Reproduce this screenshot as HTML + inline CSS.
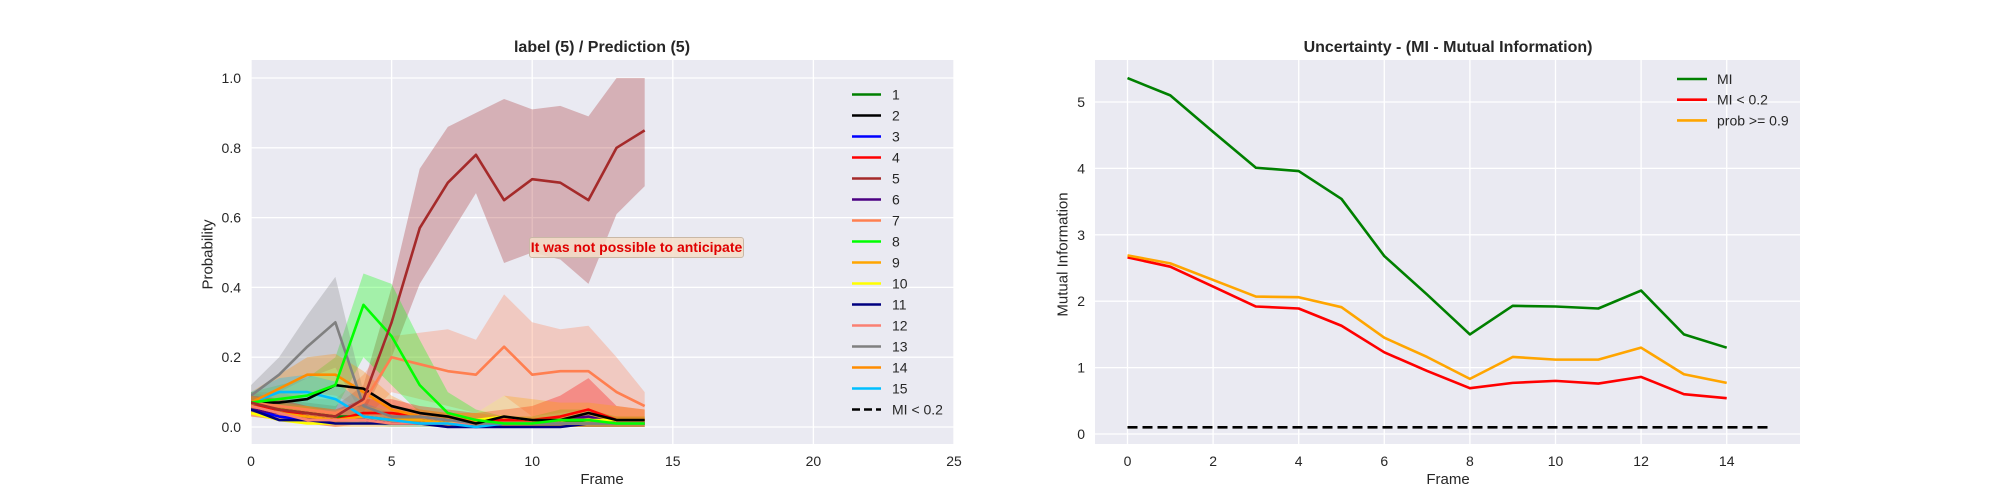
<!DOCTYPE html>
<html><head><meta charset="utf-8"><style>
body{margin:0;background:#fff;}
svg{display:block;font-family:"Liberation Sans",sans-serif;}
</style></head><body>
<svg id="c" width="2000" height="500"></svg>
<script>
const frames=[0,1,2,3,4,5,6,7,8,9,10,11,12,13,14];
const leftXTicks=[0,5,10,15,20,25];
const leftYTicks=[0.0,0.2,0.4,0.6,0.8,1.0];
const classNames=['1','2','3','4','5','6','7','8','9','10','11','12','13','14','15'];
const classColors=['green','black','blue','red','brown','indigo','coral','lime','orange','yellow','navy','salmon','gray','darkorange','deepskyblue'];
const c1=[0.06,0.05,0.04,0.03,0.03,0.02,0.02,0.01,0.01,0.01,0.01,0.01,0.02,0.01,0.01];
const c2=[0.07,0.07,0.08,0.12,0.11,0.06,0.04,0.03,0.01,0.03,0.02,0.02,0.04,0.02,0.02];
const c3=[0.05,0.03,0.02,0.02,0.02,0.01,0.01,0.01,0.0,0.01,0.01,0.01,0.01,0.01,0.01];
const c4=[0.06,0.05,0.03,0.02,0.04,0.04,0.03,0.02,0.02,0.02,0.02,0.03,0.05,0.02,0.02];
const c5=[0.07,0.05,0.04,0.03,0.08,0.30,0.57,0.70,0.78,0.65,0.71,0.70,0.65,0.80,0.85];
const c6=[0.05,0.04,0.03,0.02,0.02,0.01,0.01,0.01,0.01,0.01,0.01,0.02,0.03,0.01,0.01];
const c7=[0.07,0.06,0.05,0.04,0.07,0.20,0.18,0.16,0.15,0.23,0.15,0.16,0.16,0.10,0.06];
const c8=[0.07,0.08,0.09,0.12,0.35,0.26,0.12,0.04,0.02,0.01,0.01,0.02,0.02,0.01,0.01];
const c9=[0.06,0.04,0.03,0.02,0.03,0.02,0.02,0.01,0.01,0.01,0.01,0.02,0.02,0.01,0.01];
const c10=[0.04,0.02,0.01,0.01,0.01,0.01,0.01,0.01,0.02,0.03,0.02,0.02,0.02,0.02,0.02];
const c11=[0.05,0.02,0.02,0.01,0.01,0.01,0.01,0.0,0.0,0.0,0.0,0.0,0.01,0.01,0.01];
const c12=[0.06,0.04,0.02,0.02,0.02,0.01,0.01,0.01,0.01,0.01,0.01,0.01,0.01,0.01,0.01];
const c13=[0.09,0.15,0.23,0.30,0.06,0.03,0.03,0.02,0.01,0.01,0.01,0.01,0.01,0.01,0.01];
const c14=[0.07,0.11,0.15,0.15,0.10,0.05,0.03,0.02,0.02,0.01,0.01,0.01,0.01,0.01,0.01];
const c15=[0.07,0.10,0.10,0.08,0.03,0.02,0.01,0.01,0.0,0.01,0.01,0.01,0.01,0.01,0.01];
const classMeans=[c1,c2,c3,c4,c5,c6,c7,c8,c9,c10,c11,c12,c13,c14,c15];
const band5Up=[0.10,0.08,0.07,0.06,0.12,0.40,0.74,0.86,0.90,0.94,0.91,0.92,0.89,1.0,1.0];
const band5Lo=[0.04,0.03,0.02,0.01,0.04,0.20,0.41,0.54,0.67,0.47,0.50,0.48,0.41,0.61,0.69];
const band7Up=[0.10,0.10,0.08,0.08,0.15,0.26,0.27,0.28,0.25,0.38,0.30,0.28,0.29,0.20,0.10];
const band7Lo=[0.04,0.03,0.02,0.01,0.02,0.10,0.08,0.06,0.04,0.09,0.03,0.04,0.05,0.02,0.02];
const band8Up=[0.10,0.12,0.14,0.20,0.44,0.41,0.25,0.10,0.05,0.03,0.03,0.05,0.05,0.03,0.03];
const band8Lo=[0.04,0.04,0.05,0.05,0.20,0.12,0.04,0.01,0.0,0.0,0.0,0.0,0.0,0.0,0.0];
const band13Up=[0.12,0.20,0.32,0.43,0.10,0.06,0.05,0.04,0.02,0.02,0.02,0.02,0.02,0.02,0.02];
const band13Lo=[0.06,0.10,0.14,0.17,0.03,0.01,0.01,0.0,0.0,0.0,0.0,0.0,0.0,0.0,0.0];
const band14Up=[0.10,0.15,0.20,0.21,0.16,0.09,0.05,0.04,0.04,0.03,0.03,0.03,0.03,0.03,0.03];
const band14Lo=[0.04,0.07,0.10,0.09,0.05,0.02,0.01,0.0,0.0,0.0,0.0,0.0,0.0,0.0,0.0];
const band15Up=[0.10,0.14,0.15,0.13,0.07,0.04,0.03,0.02,0.01,0.02,0.02,0.02,0.02,0.02,0.02];
const band15Lo=[0.04,0.06,0.06,0.04,0.01,0.0,0.0,0.0,0.0,0.0,0.0,0.0,0.0,0.0,0.0];
const band4Up=[0.09,0.08,0.06,0.05,0.08,0.08,0.06,0.05,0.04,0.05,0.06,0.09,0.14,0.06,0.05];
const band4Lo=[0.03,0.02,0.01,0.0,0.01,0.01,0.01,0.0,0.0,0.0,0.0,0.0,0.0,0.0,0.0];
const band9Up=[0.09,0.07,0.06,0.05,0.06,0.05,0.05,0.04,0.04,0.09,0.08,0.07,0.07,0.06,0.05];
const band9Lo=[0.03,0.02,0.01,0.0,0.0,0.0,0.0,0.0,0.0,0.0,0.0,0.0,0.0,0.0,0.0];
const bands=[[4,band5Up,band5Lo],[6,band7Up,band7Lo],[7,band8Up,band8Lo],[12,band13Up,band13Lo],[13,band14Up,band14Lo],[14,band15Up,band15Lo],[3,band4Up,band4Lo],[8,band9Up,band9Lo]];

const rightXTicks=[0,2,4,6,8,10,12,14];
const rightYTicks=[0,1,2,3,4,5];
const miValues=[5.36,5.10,4.55,4.01,3.96,3.54,2.68,2.10,1.50,1.93,1.92,1.89,2.16,1.50,1.30];
const miLow=[2.66,2.52,2.22,1.92,1.89,1.63,1.23,0.95,0.69,0.77,0.80,0.76,0.86,0.60,0.54];
const probHigh=[2.69,2.57,2.32,2.07,2.06,1.91,1.45,1.16,0.83,1.16,1.12,1.12,1.30,0.90,0.77];
const threshX=[0,15];
const threshY=[0.1,0.1];

const NS='http://www.w3.org/2000/svg';
const svg=document.getElementById('c');
function mk(tag,attrs,parent){const e=document.createElementNS(NS,tag);for(const k in attrs)e.setAttribute(k,attrs[k]);(parent||svg).appendChild(e);return e;}

const L={x0:251,x1:954,y0:60,y1:444};
const lx=v=>251+v*28.12;
const ly=v=>427-v*349;
const R={x0:1095,x1:1800,y0:60,y1:444};
const rx=v=>1127.5+v*42.8;
const ry=v=>434-v*66.4;

function axesBg(A,name){
  const r=mk('rect',{x:A.x0,y:A.y0,width:A.x1-A.x0,height:A.y1-A.y0,fill:'#eaeaf2'});
  
  
}
axesBg(L,'left-plot-area');
axesBg(R,'right-plot-area');

function grid(A,xt,yt,fx,fy,prefix){
  const g=mk('g',{});
  
  
  xt.forEach(t=>{const x=fx(t);if(x>=A.x0-1&&x<=A.x1+1)mk('line',{x1:x,x2:x,y1:A.y0,y2:A.y1,stroke:'#fff','stroke-width':1.3},g);});
  yt.forEach(t=>{const y=fy(t);mk('line',{x1:A.x0,x2:A.x1,y1:y,y2:y,stroke:'#fff','stroke-width':1.3},g);});
}
grid(L,leftXTicks,leftYTicks,lx,ly,'left');
grid(R,rightXTicks,rightYTicks,rx,ry,'right');

function ticks(xt,yt,fx,fy,A,prefix,yfmt){
  const g=mk('g',{'font-size':14,fill:'#262626'});
  
  
  xt.forEach(t=>{const e=mk('text',{x:fx(t),y:466,'text-anchor':'middle'},g);e.textContent=t;});
  yt.forEach(t=>{const e=mk('text',{x:A.x0-10,y:fy(t)+5,'text-anchor':'end'},g);e.textContent=yfmt(t);});
}
ticks(leftXTicks,leftYTicks,lx,ly,L,'left',t=>t.toFixed(1));
ticks(rightXTicks,rightYTicks,rx,ry,R,'right',t=>String(t));

function pts(xs,ys,fx,fy){return xs.map((x,i)=>fx(x)+','+fy(ys[i])).join(' ');}

const clip=mk('clipPath',{id:'lclip'});mk('rect',{x:L.x0,y:L.y0,width:L.x1-L.x0,height:L.y1-L.y0},clip);
const lg=mk('g',{'clip-path':'url(#lclip)'});
bands.forEach(b=>{
  const up=b[1],lo=b[2];
  const p=frames.map((f,i)=>lx(f)+','+ly(up[i])).concat(frames.slice().reverse().map((f,j)=>{const i=frames.length-1-j;return lx(f)+','+ly(lo[i]);})).join(' ');
  const e=mk('polygon',{points:p,fill:classColors[b[0]],'fill-opacity':0.3,stroke:'none'},lg);
  
  
});
const order=[0,2,3,5,8,9,10,11,14,13,12,1,6,7,4];
order.forEach(i=>{
  const e=mk('polyline',{points:pts(frames,classMeans[i],lx,ly),fill:'none',stroke:classColors[i],'stroke-width':2.6,'stroke-linejoin':'round'},lg);
  
  
});

const rthresh=mk('polyline',{points:pts(threshX,threshY,rx,ry),fill:'none',stroke:'#000','stroke-width':2.6,'stroke-dasharray':'10,5'});


[[miValues,'green','mi-line'],[miLow,'red','mi-low-line'],[probHigh,'orange','prob-high-line']].forEach(s=>{
  const e=mk('polyline',{points:pts(frames,s[0],rx,ry),fill:'none',stroke:s[1],'stroke-width':2.6,'stroke-linejoin':'round'});
  
  
});

const leg=mk('g',{'font-size':14,fill:'#262626'});


classNames.concat(['MI < 0.2']).forEach((n,i)=>{
  const y=94.5+i*21;
  const ln=mk('line',{x1:852,x2:881,y1:y,y2:y,stroke:i<15?classColors[i]:'#000','stroke-width':2.6},leg);
  if(i===15){ln.setAttribute('stroke-dasharray','8,4');}
  const t=mk('text',{x:892,y:y+5},leg);t.textContent=n;
  
  
});
const rleg=mk('g',{'font-size':14,fill:'#262626'});


[['MI','green'],['MI < 0.2','red'],['prob >= 0.9','orange']].forEach((s,i)=>{
  const y=79+i*20.7;
  mk('line',{x1:1677,x2:1707,y1:y,y2:y,stroke:s[1],'stroke-width':2.6},rleg);
  const t=mk('text',{x:1717,y:y+5},rleg);t.textContent=s[0];
  
  
});
</script>
<div style="position:absolute;left:0;top:0;width:2000px;height:500px;pointer-events:none;font-family:'Liberation Sans',sans-serif;color:#262626;">
  <div style="position:absolute;left:402px;width:400px;top:39px;text-align:center;font-weight:bold;font-size:16px;">label (5) / Prediction (5)</div>
  <div style="position:absolute;left:1198px;width:500px;top:39px;text-align:center;font-weight:bold;font-size:16px;">Uncertainty - (MI - Mutual Information)</div>
  <div style="position:absolute;left:502px;width:200px;top:471px;text-align:center;font-size:15px;">Frame</div>
  <div style="position:absolute;left:1348px;width:200px;top:471px;text-align:center;font-size:15px;">Frame</div>
  <div style="position:absolute;left:108px;width:200px;top:246px;text-align:center;font-size:15px;transform:rotate(-90deg);">Probability</div>
  <div style="position:absolute;left:963px;width:200px;top:246px;text-align:center;font-size:15px;transform:rotate(-90deg);">Mutual Information</div>
  <div style="position:absolute;left:529px;top:237px;width:215px;height:21px;box-sizing:border-box;background:rgba(245,222,200,0.85);border:1px solid #c9b8a6;border-radius:3px;color:#e00000;font-weight:bold;font-size:14px;text-align:center;line-height:19px;">It was not possible to anticipate</div>
</div>
</body></html>
